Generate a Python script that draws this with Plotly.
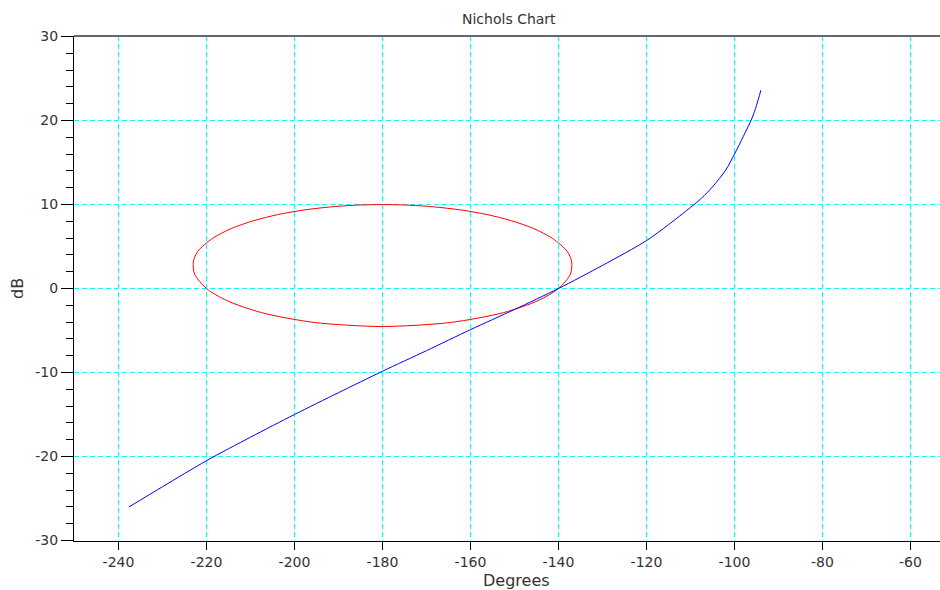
import plotly.graph_objects as go

# Open-loop Nichols curve (phase in degrees, gain in dB)
blue_phase = [-237.6, -230, -220, -210, -200, -190, -180, -170, -160, -150,
              -140, -130, -120, -115, -110, -107.5, -105, -102, -100, -98, -96, -95, -94.0]
blue_db = [-26.0, -23.6, -20.5, -17.7, -15.0, -12.4, -9.85, -7.4, -4.9, -2.5,
           0.0, 2.75, 5.7, 7.6, 9.65, 10.75, 12.1, 14.1, 16.0, 18.1, 20.3, 21.8, 23.6]

# Closed M-contour (red loop)
red_phase = [-180, -195.5, -207.5, -215.4, -220.0, -222.7, -223.0, -222.0, -218.7, -214.4,
             -209.3, -203.8, -198.1, -192.1, -186.1, -180,
             -173.9, -167.9, -161.9, -156.2, -150.7, -145.6, -141.3, -138.0, -137.0,
             -137.3, -140.0, -144.6, -152.5, -164.5, -180]
red_db = [-4.52, -4.04, -2.87, -1.43, 0.0, 1.70, 3.17, 4.41, 5.94, 7.13,
          8.07, 8.80, 9.33, 9.70, 9.92, 9.99,
          9.92, 9.70, 9.33, 8.80, 8.07, 7.13, 5.94, 4.41, 3.17,
          1.70, 0.0, -1.43, -2.87, -4.04, -4.52]

x_ticks = [-240, -220, -200, -180, -160, -140, -120, -100, -80, -60]
y_ticks = [-30, -20, -10, 0, 10, 20, 30]

FONT = "DejaVu Sans"
TXT = "#333333"

fig = go.Figure()
fig.add_trace(go.Scatter(x=red_phase, y=red_db, mode="lines",
                         line=dict(color="#ff0000", width=1, shape="spline", smoothing=0.8),
                         showlegend=False, hoverinfo="skip"))
fig.add_trace(go.Scatter(x=blue_phase, y=blue_db, mode="lines",
                         line=dict(color="#0000ff", width=1, shape="spline", smoothing=0.8),
                         showlegend=False, hoverinfo="skip"))

T, B = 36, 49
PH = 590 - T - B  # 505
YS = 8.4  # px per dB
fig.update_layout(
    width=940, height=590,
    margin=dict(l=74, r=0, t=T, b=B, autoexpand=False),
    paper_bgcolor="white", plot_bgcolor="white",
    font=dict(family=FONT, size=14, color=TXT),
    showlegend=False,
    shapes=[dict(type="line", xref="paper", yref="paper", x0=0, x1=1, y0=1, y1=1,
                 line=dict(color="#666666", width=2), layer="above")],
    annotations=[
        dict(text="Nichols Chart", xref="paper", yref="paper", x=(509 - 74) / 866, y=1 + (T - 19) / PH,
             xanchor="center", yanchor="middle", showarrow=False,
             font=dict(family=FONT, size=14, color=TXT)),
        dict(text="Degrees", xref="paper", yref="paper", x=(516 - 74) / 866, y=-(580 - (590 - B)) / PH,
             xanchor="center", yanchor="middle", showarrow=False,
             font=dict(family=FONT, size=16, color=TXT)),
        dict(text="dB", xref="paper", yref="paper", x=-(74 - 17.5) / 866, y=0.5, textangle=-90,
             xanchor="center", yanchor="middle", showarrow=False,
             font=dict(family=FONT, size=16, color=TXT)),
    ],
)

common = dict(
    ticks="outside", tickcolor="#000000", tickwidth=1,
    showline=True, linecolor="#000000", linewidth=1, mirror=False,
    showgrid=True, gridcolor="#00ffff", gridwidth=1, griddash="5px,3px",
    zeroline=False, tickfont=dict(family=FONT, size=14, color=TXT),
    fixedrange=True, automargin=False,
)
fig.update_xaxes(range=[-250.1136, -250.1136 + 866 / 4.4], tickmode="array", tickvals=x_ticks,
                 ticktext=[str(v) for v in x_ticks], ticklen=8, **common)
fig.update_yaxes(range=[-30 - 0.5 / YS, 30 + 0.5 / YS], tickmode="array", tickvals=y_ticks,
                 ticktext=[str(v) for v in y_ticks], ticklen=12,
                 minor=dict(dtick=2, tick0=0, ticks="outside", ticklen=7,
                            tickcolor="#000000", showgrid=False),
                 **common)

post = "document.body.style.margin='0';document.body.style.overflow='hidden';"
fig.write_html("out.html", config={"staticPlot": True}, post_script=post)
